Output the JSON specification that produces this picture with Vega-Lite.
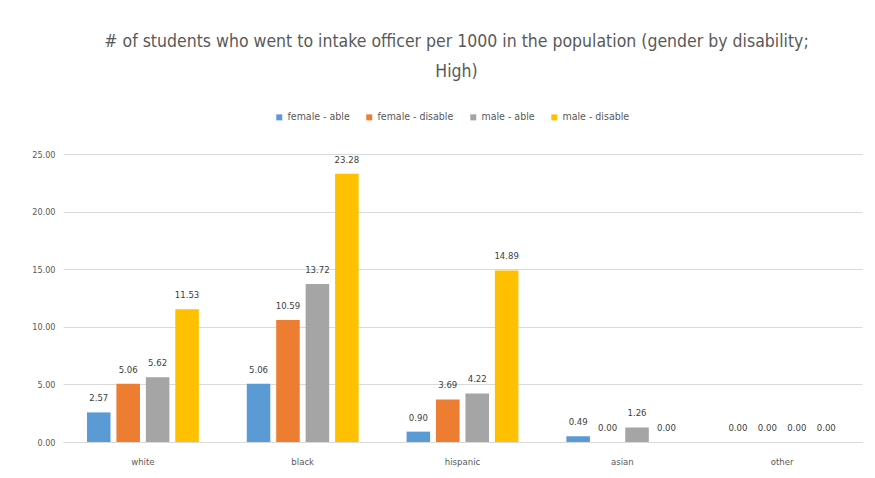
{
  "$schema": "https://vega.github.io/schema/vega-lite/v6.json",
  "width": 799,
  "height": 288,
  "autosize": {"type": "none"},
  "padding": {"left": 63, "top": 154, "right": 13, "bottom": 36},
  "background": "white",
  "config": {
    "font": "Liberation Sans Narrow, DejaVu Sans Condensed, sans-serif",
    "view": {"stroke": null}
  },
  "title": {
    "text": ["# of students who went to intake officer per 1000 in the population (gender by disability;", "High)"],
    "fontSize": 17.5,
    "fontWeight": "normal",
    "color": "#595959",
    "anchor": "middle",
    "lineHeight": 30,
    "offset": 32,
    "dx": -6,
    "font": "Liberation Sans Narrow, DejaVu Sans Condensed, sans-serif"
  },
  "data": {
    "values": [
      {"race": "white", "group": "female - able", "value": 2.57},
      {"race": "white", "group": "female - disable", "value": 5.06},
      {"race": "white", "group": "male - able", "value": 5.62},
      {"race": "white", "group": "male - disable", "value": 11.53},
      {"race": "black", "group": "female - able", "value": 5.06},
      {"race": "black", "group": "female - disable", "value": 10.59},
      {"race": "black", "group": "male - able", "value": 13.72},
      {"race": "black", "group": "male - disable", "value": 23.28},
      {"race": "hispanic", "group": "female - able", "value": 0.90},
      {"race": "hispanic", "group": "female - disable", "value": 3.69},
      {"race": "hispanic", "group": "male - able", "value": 4.22},
      {"race": "hispanic", "group": "male - disable", "value": 14.89},
      {"race": "asian", "group": "female - able", "value": 0.49},
      {"race": "asian", "group": "female - disable", "value": 0.00},
      {"race": "asian", "group": "male - able", "value": 1.26},
      {"race": "asian", "group": "male - disable", "value": 0.00},
      {"race": "other", "group": "female - able", "value": 0.00},
      {"race": "other", "group": "female - disable", "value": 0.00},
      {"race": "other", "group": "male - able", "value": 0.00},
      {"race": "other", "group": "male - disable", "value": 0.00}
    ]
  },
  "encoding": {
    "x": {
      "field": "race", "type": "nominal",
      "sort": ["white", "black", "hispanic", "asian", "other"],
      "scale": {"paddingInner": 0.3, "paddingOuter": 0.15},
      "axis": {
        "title": null, "labelAngle": 0, "ticks": false,
        "domainColor": "#d9d9d9", "labelColor": "#595959",
        "labelFontSize": 9.5, "labelPadding": 14
      }
    },
    "xOffset": {
      "field": "group", "type": "nominal",
      "sort": ["female - able", "female - disable", "male - able", "male - disable"],
      "scale": {"paddingInner": 0.2}
    },
    "y": {
      "field": "value", "type": "quantitative",
      "scale": {"domain": [0, 25]},
      "axis": {
        "title": null, "format": ".2f", "values": [0, 5, 10, 15, 20, 25],
        "domain": false, "ticks": false, "gridColor": "#d9d9d9",
        "labelColor": "#595959", "labelFontSize": 9, "labelPadding": 8
      }
    }
  },
  "layer": [
    {
      "mark": {"type": "bar"},
      "encoding": {
        "color": {
          "field": "group", "type": "nominal",
          "sort": ["female - able", "female - disable", "male - able", "male - disable"],
          "scale": {
            "domain": ["female - able", "female - disable", "male - able", "male - disable"],
            "range": ["#5B9BD5", "#ED7D31", "#A5A5A5", "#FFC000"]
          },
          "legend": {
            "title": null, "orient": "none", "direction": "horizontal",
            "legendX": 211, "legendY": -42,
            "symbolType": "square", "symbolSize": 36, "symbolStrokeWidth": 0,
            "labelFontSize": 10.5, "labelColor": "#595959", "columnPadding": 14,
            "labelOffset": 3
          }
        }
      }
    },
    {
      "mark": {"type": "text", "baseline": "bottom", "dy": -9, "fontSize": 9.5, "color": "#404040"},
      "encoding": {
        "text": {"field": "value", "type": "quantitative", "format": ".2f"}
      }
    }
  ]
}
